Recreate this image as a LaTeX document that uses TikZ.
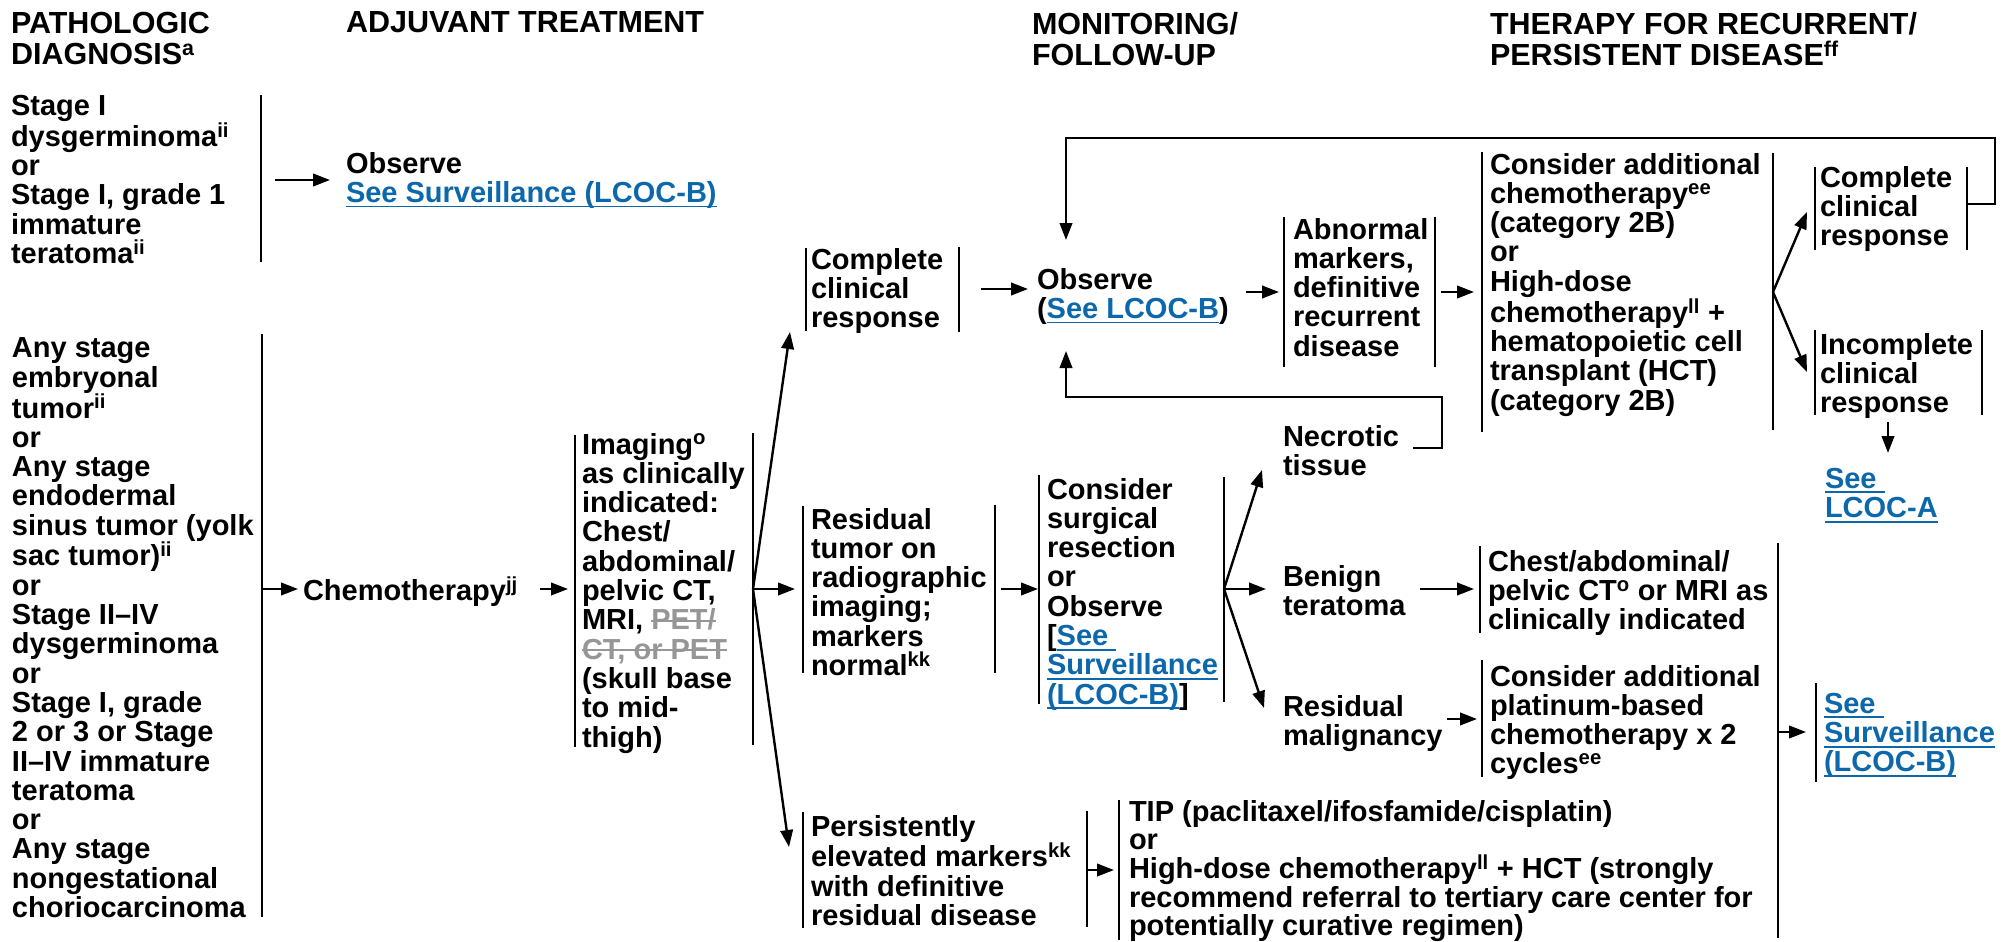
\documentclass[tikz,border=0pt]{standalone}
\usepackage{fontspec}
\setmainfont{Liberation Sans}
\usetikzlibrary{arrows.meta}
\definecolor{linkblue}{RGB}{12,104,170}
\definecolor{strikegray}{RGB}{150,150,150}
\newcommand\sps[1]{\textsuperscript{#1}}
\newcommand\lnk[1]{{\color{linkblue}\setbox0\hbox{#1}\rlap{\rule[-5pt]{\wd0}{1.8pt}}\box0}}
\newcommand\strk[1]{{\color{strikegray}\setbox0\hbox{#1}\rlap{\rule[8pt]{\wd0}{2pt}}\box0}}
\newcommand\bodyf{\fontsize{29}{29.3}\selectfont\bfseries}
\newcommand\tightf{\fontsize{29}{28.7}\selectfont\bfseries}
\newcommand\headf{\fontsize{30.5}{31.5}\selectfont\bfseries}
\tikzset{
  txt/.style={anchor=north west, inner sep=0pt, outer sep=0pt, align=left, font=\bodyf},
  hd/.style={txt, font=\headf},
  bar/.style={line width=2.6pt},
  arr/.style={line width=2.4pt, -{Triangle[length=17pt,width=12.5pt]}}
}
\begin{document}
\begin{tikzpicture}[x=1pt,y=-1pt]
\useasboundingbox (0,0) rectangle (2011,942);
% headers
\node[hd] (h1) at (11,12) {PATHOLOGIC\\DIAGNOSIS\sps{a}};
\node[hd] (h2) at (346,12) {ADJUVANT TREATMENT};
\node[hd] (h3) at (1032,12) {MONITORING/\\FOLLOW-UP};
\node[hd] (h4) at (1490,12) {THERAPY FOR RECURRENT/\\PERSISTENT DISEASE\sps{ff}};
% top-left
\node[txt] (d1) at (11,95) {Stage I\\dysgerminoma\sps{ii}\\or\\Stage I, grade 1\\immature\\teratoma\sps{ii}};
\draw[bar] (261,95) -- (261,262);
\node[txt] (obs1) at (346,152) {Observe\\\lnk{See Surveillance (LCOC-B)}};
\coordinate (a1s) at (275,180); \coordinate (a1e) at (330,180);
\draw[arr] (a1s) -- (a1e);
% left big
\node[txt] (d2) at (12,338) {Any stage\\embryonal\\tumor\sps{ii}\\or\\Any stage\\endodermal\\sinus tumor (yolk\\sac tumor)\sps{ii}\\or\\Stage II–IV\\dysgerminoma\\or\\Stage I, grade\\2 or 3 or Stage\\II–IV immature\\teratoma\\or\\Any stage\\nongestational\\choriocarcinoma};
\draw[bar] (262,334) -- (262,917);
\coordinate (a2s) at (262,589); \coordinate (a2e) at (298,589);
\draw[arr] (a2s) -- (a2e);
\node[txt] (chemo) at (303,577) {Chemotherapy\sps{jj}};
\coordinate (a3s) at (540,589); \coordinate (a3e) at (568,589);
\draw[arr] (a3s) -- (a3e);
% imaging
\node[txt] (img) at (582,433) {Imaging\sps{o}\\as clinically\\indicated:\\Chest/\\abdominal/\\pelvic CT,\\MRI, \strk{PET/}\\\strk{CT, or PET}\\(skull base\\to mid-\\thigh)};
\draw[bar] (575,435) -- (575,747);
\draw[bar] (753,433) -- (753,745);
\coordinate (f1) at (753,589);
\coordinate (f1a) at (790,332); \coordinate (f1b) at (795,589); \coordinate (f1c) at (789,847);
\draw[arr] (f1) -- (f1a);
\draw[arr] (f1) -- (f1b);
\draw[arr] (f1) -- (f1c);
% complete clinical response (mid)
\node[txt] (ccr1) at (811,248) {Complete\\clinical\\response};
\draw[bar] (806,248) -- (806,331);
\draw[bar] (959,247) -- (959,332);
\coordinate (a4s) at (981,289); \coordinate (a4e) at (1028,289);
\draw[arr] (a4s) -- (a4e);
\node[txt] (obs2) at (1037,268) {Observe\\(\lnk{See LCOC-B})};
\coordinate (a5s) at (1246,292); \coordinate (a5e) at (1279,292);
\draw[arr] (a5s) -- (a5e);
% abnormal
\node[txt] (abn) at (1293,218) {Abnormal\\markers,\\definitive\\recurrent\\disease};
\draw[bar] (1284,217) -- (1284,367);
\draw[bar] (1435,217) -- (1435,367);
\coordinate (a6s) at (1441,292); \coordinate (a6e) at (1474,292);
\draw[arr] (a6s) -- (a6e);
% consider additional
\node[txt] (cadd) at (1490,153) {Consider additional\\chemotherapy\sps{ee}\\(category 2B)\\or\\High-dose\\chemotherapy\sps{ll} +\\hematopoietic cell\\transplant (HCT)\\(category 2B)};
\draw[bar] (1482,152) -- (1482,432);
\draw[bar] (1773,153) -- (1773,430);
\coordinate (f2) at (1773,292);
\coordinate (f2a) at (1807,212); \coordinate (f2b) at (1807,372);
\draw[arr] (f2) -- (f2a);
\draw[arr] (f2) -- (f2b);
% complete / incomplete (right)
\node[txt] (ccr2) at (1820,166) {Complete\\clinical\\response};
\draw[bar] (1815,167) -- (1815,250);
\draw[bar] (1967,167) -- (1967,250);
\node[txt] (icr) at (1820,333) {Incomplete\\clinical\\response};
\draw[bar] (1815,330) -- (1815,415);
\draw[bar] (1982,330) -- (1982,415);
\coordinate (a7s) at (1888,422); \coordinate (a7e) at (1888,453);
\draw[arr] (a7s) -- (a7e);
\node[txt] (lcoca) at (1825,468) {\lnk{See\ }\\\lnk{LCOC-A}};
% top loop
\coordinate (l1s) at (1967,204); \coordinate (l1e) at (1066,240);
\draw[arr] (l1s) -- (1995,204) -- (1995,138) -- (1066,138) -- (l1e);
% necrotic + bottom loop
\node[txt] (nec) at (1283,425) {Necrotic\\tissue};
\coordinate (l2s) at (1413,448); \coordinate (l2e) at (1066,351);
\draw[arr] (l2s) -- (1442,448) -- (1442,397) -- (1066,397) -- (l2e);
% residual tumor
\node[txt] (res) at (811,508) {Residual\\tumor on\\radiographic\\imaging;\\markers\\normal\sps{kk}};
\draw[bar] (803,506) -- (803,673);
\draw[bar] (995,505) -- (995,673);
\coordinate (a8s) at (1001,589); \coordinate (a8e) at (1038,589);
\draw[arr] (a8s) -- (a8e);
% consider surgical
\node[txt] (surg) at (1047,478) {Consider\\surgical\\resection\\or\\Observe\\{[}\lnk{See\ }\\\lnk{Surveillance}\\\lnk{(LCOC-B)}{]}};
\draw[bar] (1039,475) -- (1039,704);
\draw[bar] (1224,477) -- (1224,702);
\coordinate (f3) at (1224,589);
\coordinate (f3a) at (1262,470); \coordinate (f3b) at (1266,589); \coordinate (f3c) at (1264,708);
\draw[arr] (f3) -- (f3a);
\draw[arr] (f3) -- (f3b);
\draw[arr] (f3) -- (f3c);
% benign teratoma
\node[txt] (ben) at (1283,565) {Benign\\teratoma};
\coordinate (a9s) at (1420,589); \coordinate (a9e) at (1474,589);
\draw[arr] (a9s) -- (a9e);
\node[txt] (chest) at (1488,550) {Chest/abdominal/\\pelvic CT\sps{o} or MRI as\\clinically indicated};
\draw[bar] (1480,546) -- (1480,633);
% residual malignancy
\node[txt] (mal) at (1283,695) {Residual\\malignancy};
\coordinate (a10s) at (1447,719); \coordinate (a10e) at (1477,719);
\draw[arr] (a10s) -- (a10e);
\node[txt] (plat) at (1490,665) {Consider additional\\platinum-based\\chemotherapy x 2\\cycles\sps{ee}};
\draw[bar] (1482,660) -- (1482,777);
% big right bar + see surveillance
\draw[bar] (1778,543) -- (1778,938);
\coordinate (a11s) at (1778,732); \coordinate (a11e) at (1806,732);
\draw[arr] (a11s) -- (a11e);
\node[txt] (surv) at (1824,693) {\lnk{See\ }\\\lnk{Surveillance}\\\lnk{(LCOC-B)}};
\draw[bar] (1816,683) -- (1816,782);
% persistently
\node[txt] (pers) at (811,815) {Persistently\\elevated markers\sps{kk}\\with definitive\\residual disease};
\draw[bar] (803,812) -- (803,928);
\draw[bar] (1087,811) -- (1087,927);
\coordinate (a12s) at (1087,870); \coordinate (a12e) at (1114,870);
\draw[arr] (a12s) -- (a12e);
\node[txt, font=\tightf] (tip) at (1129,800) {TIP (paclitaxel/ifosfamide/cisplatin)\\or\\High-dose chemotherapy\sps{ll} + HCT (strongly\\recommend referral to tertiary care center for\\potentially curative regimen)};
\draw[bar] (1119,800) -- (1119,940);
\end{tikzpicture}
\end{document}
